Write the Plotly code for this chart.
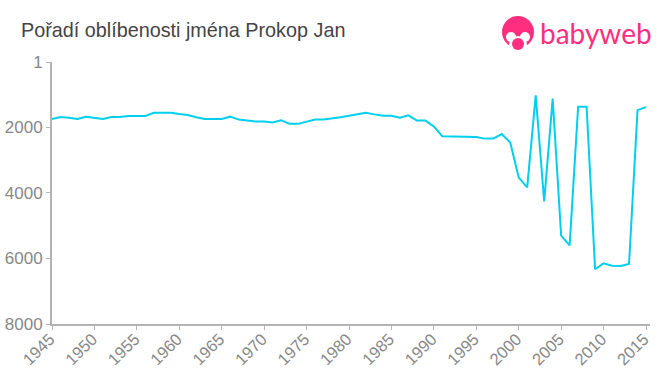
import plotly.graph_objects as go

title = "Pořadí oblíbenosti jména Prokop Jan"
brand = "babyweb"
years = list(range(1945, 2016))
ranks = [1740, 1680, 1700, 1740, 1670, 1710, 1740, 1680, 1680, 1650,
         1650, 1650, 1550, 1550, 1550, 1590, 1620, 1690, 1740, 1740,
         1740, 1670, 1760, 1790, 1820, 1820, 1850, 1780, 1890, 1890,
         1820, 1760, 1760, 1730, 1690, 1640, 1600, 1550, 1600, 1640,
         1640, 1700, 1630, 1790, 1790, 1970, 2270, 2270, 2290, 2290,
         2290, 2340, 2340, 2200, 2460, 3530, 3830, 1020, 4260, 1120,
         5300, 5600, 1370, 1370, 6330, 6150, 6220, 6230, 6170, 1470,
         1380]
x_ticks = list(range(1945, 2016, 5))
y_ticks = [1, 2000, 4000, 6000, 8000]

PINK = "#ff2e7e"
GREY = "#888888"
AXIS = "#b3b3b3"
W, H = 660, 375

fig = go.Figure(
    go.Scatter(x=years, y=ranks, mode="lines",
               line=dict(color="#00cfee", width=2), hoverinfo="x+y")
)


def to_x(v):
    return (v - 52) / 598


def to_y(v):
    return (324 - v) / 262


def circle(x0, y0, x1, y1, color):
    return dict(type="circle", xref="paper", yref="paper", layer="above",
                x0=to_x(x0), x1=to_x(x1), y0=to_y(y1), y1=to_y(y0),
                fillcolor=color, line=dict(width=0))


logo_shapes = [
    circle(502, 16, 534, 48, PINK),
    circle(506, 32, 516, 42, "#ffffff"),
    circle(520, 32, 530, 42, "#ffffff"),
    circle(509, 36, 527, 54, "#ffffff"),
    circle(512, 38, 524, 50, PINK),
]

fig.update_layout(
    width=W, height=H, autosize=False,
    margin=dict(l=52, r=10, t=62, b=51, autoexpand=False),
    paper_bgcolor="#ffffff", plot_bgcolor="#ffffff",
    showlegend=False,
    font=dict(family="Liberation Sans, Arial, sans-serif"),
    xaxis=dict(range=[1945, 2015.47], tickmode="array", tickvals=x_ticks,
               ticktext=[str(t) for t in x_ticks], tickangle=-45,
               automargin=False, ticklabelstandoff=-7, ticklabelshift=-2,
               showgrid=False, zeroline=False, showline=True,
               linecolor=AXIS, linewidth=2, ticks="outside", ticklen=4,
               tickwidth=1, tickcolor=AXIS,
               tickfont=dict(size=16.5, color=GREY)),
    yaxis=dict(range=[8000, 1], tickmode="array", tickvals=y_ticks,
               ticktext=[str(t) for t in y_ticks],
               automargin=False,
               showgrid=False, zeroline=False, showline=True,
               linecolor=AXIS, linewidth=2, ticks="outside", ticklen=4,
               tickwidth=1, tickcolor=AXIS,
               tickfont=dict(size=17, color=GREY)),
    shapes=logo_shapes,
    annotations=[
        dict(text=title, xref="paper", yref="paper", x=to_x(19), y=to_y(30),
             xanchor="left", yanchor="middle", showarrow=False,
             font=dict(size=19.8, color="#444444")),
        dict(text=brand, xref="paper", yref="paper", x=to_x(538), y=to_y(33),
             xanchor="left", yanchor="middle", showarrow=False,
             font=dict(size=28, color=PINK, family="Lato, sans-serif")),
    ],
)

fig.write_html("out.html", config=dict(displayModeBar=False),
               post_script="document.body.style.margin='0';document.body.style.overflow='hidden';window.dispatchEvent(new Event('resize'));")
